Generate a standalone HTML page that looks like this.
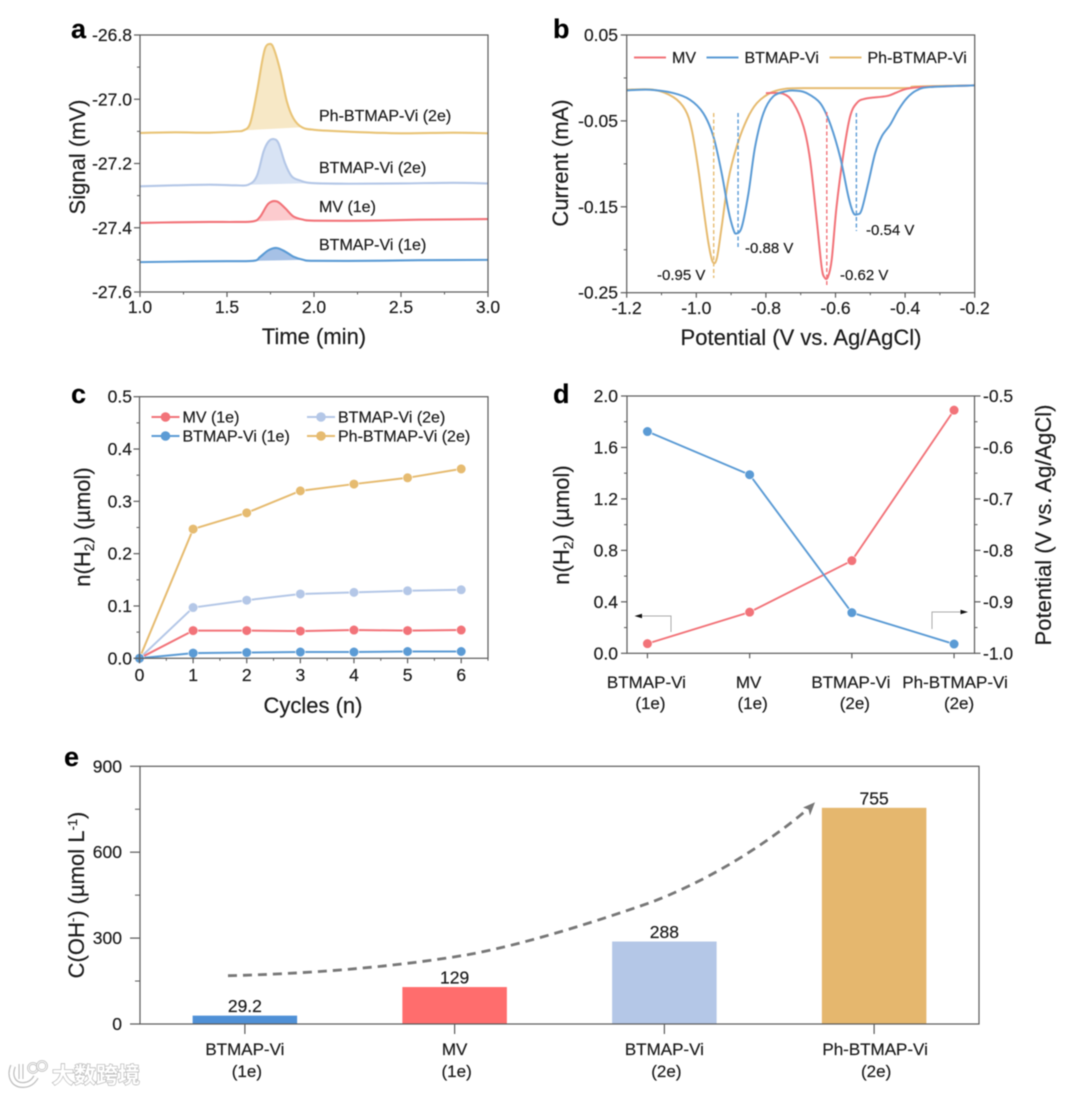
<!DOCTYPE html>
<html lang="en">
<head>
<meta charset="utf-8">
<title>Five-panel hydrogen evolution chart</title>
<style>
html,body{margin:0;padding:0;background:#fff;}
body{width:1080px;height:1094px;overflow:hidden;}
#figure{display:block;filter:blur(0.45px);}
text{font-family:"Liberation Sans","Noto Sans CJK SC",sans-serif;fill:#1c1c1c;stroke:#1c1c1c;stroke-width:0.2px;}
</style>
</head>
<body>
<svg id="figure" xmlns="http://www.w3.org/2000/svg" width="1080" height="1094" viewBox="0 0 1080 1094">
  <rect width="1080" height="1094" fill="#fff"/>

  <text x="71" y="38" font-size="27" font-weight="700" style="fill:#000">a</text>
  <text x="553" y="38" font-size="27" font-weight="700" style="fill:#000">b</text>
  <text x="71" y="403" font-size="27" font-weight="700" style="fill:#000">c</text>
  <text x="553" y="403" font-size="27" font-weight="700" style="fill:#000">d</text>
  <text x="64" y="766" font-size="27" font-weight="700" style="fill:#000">e</text>

  <text transform="translate(85,157) rotate(-90)" text-anchor="middle" font-size="22">Signal (mV)</text>
  <text x="314" y="344" text-anchor="middle" font-size="22">Time (min)</text>
  <text transform="translate(568,163) rotate(-90)" text-anchor="middle" font-size="22">Current (mA)</text>
  <text x="801" y="345" text-anchor="middle" font-size="22">Potential (V vs. Ag/AgCl)</text>
  <text transform="translate(90,527) rotate(-90)" text-anchor="middle" font-size="22">n(H<tspan font-size="14" dy="4">2</tspan><tspan dy="-4">) (µmol)</tspan></text>
  <text x="313" y="713" text-anchor="middle" font-size="22">Cycles (n)</text>
  <text transform="translate(569,525) rotate(-90)" text-anchor="middle" font-size="22">n(H<tspan font-size="14" dy="4">2</tspan><tspan dy="-4">) (µmol)</tspan></text>
  <text transform="translate(1051,525) rotate(-90)" text-anchor="middle" font-size="22">Potential (V vs. Ag/AgCl)</text>
  <text transform="translate(84,895) rotate(-90)" text-anchor="middle" font-size="22">C(OH<tspan font-size="13" dy="-7">-</tspan><tspan dy="7">) (µmol L</tspan><tspan font-size="13" dy="-7">-1</tspan><tspan dy="7">)</tspan></text>

  <g id="plot-a"></g>
  <g id="plot-b"></g>
  <g id="plot-c"></g>
  <g id="plot-d"></g>
  <g id="plot-e"></g>

  <g>
    <path d="M671 632V616H640" fill="none" stroke="#aaa" stroke-width="1"/>
    <path d="M634.5 616L642 613.8V618.2Z" fill="#111"/>
  </g>
  <g>
    <path d="M932 629V612H962" fill="none" stroke="#aaa" stroke-width="1"/>
    <path d="M968 612L960.5 609.8V614.2Z" fill="#111"/>
  </g>

  <g>
    <path d="M228 975.7C300 974 390 968 470 954.3C530 943 600 920 650 902.7C700 884 760 850 809 808" fill="none" stroke="#777" stroke-width="2.8" stroke-dasharray="9 6"/>
    <path d="M815 802.3L803 807.5L808.5 809.5L810 815.5Z" fill="#777"/>
  </g>

  <g>
    <path d="M13 1066C9 1076 13 1085 23 1085C29 1085 33 1082 36 1077" fill="none" stroke="#bdbdbd" stroke-width="6"/>
    <path d="M13 1066C9 1076 13 1085 23 1085C29 1085 33 1082 36 1077" fill="none" stroke="#fff" stroke-width="3.6"/>
    <path d="M21 1064V1079" fill="none" stroke="#bdbdbd" stroke-width="5"/>
    <path d="M21 1064V1079" fill="none" stroke="#fff" stroke-width="2.8"/>
    <circle cx="33" cy="1068" r="4.6" fill="none" stroke="#bdbdbd" stroke-width="2.6"/>
    <circle cx="33" cy="1068" r="4.6" fill="none" stroke="#fff" stroke-width="1"/>
    <circle cx="42" cy="1066" r="4.6" fill="none" stroke="#bdbdbd" stroke-width="2.6"/>
    <circle cx="42" cy="1066" r="4.6" fill="none" stroke="#fff" stroke-width="1"/>
    <text x="52" y="1083" font-size="22" font-weight="700" style="fill:#fff;stroke:#b4b4b4;stroke-width:1.3px;paint-order:stroke">大数跨境</text>
  </g>
</svg>

<script>
// Panel a: gas chromatography traces
const phTime = [1.0,1.2,1.4,1.55,1.594,1.633,1.671,1.70,1.72,1.744,1.767,1.805,1.844,1.882,1.93,2.0,2.2,2.5,2.8,3.0];
const phSignal = [-27.105,-27.103,-27.104,-27.100,-27.097,-27.075,-26.98,-26.888,-26.84,-26.828,-26.84,-26.909,-27.007,-27.06,-27.087,-27.095,-27.101,-27.106,-27.104,-27.106];
const bt2Time = [1.0,1.2,1.4,1.55,1.623,1.671,1.71,1.738,1.767,1.796,1.834,1.872,1.92,1.987,2.2,2.5,2.8,3.0];
const bt2Signal = [-27.271,-27.268,-27.266,-27.268,-27.266,-27.24,-27.163,-27.132,-27.124,-27.137,-27.2,-27.24,-27.253,-27.261,-27.263,-27.262,-27.260,-27.262];
const mvTime = [1.0,1.2,1.4,1.55,1.652,1.69,1.738,1.786,1.834,1.882,1.94,2.0,2.3,2.6,3.0];
const mvSignal = [-27.385,-27.383,-27.382,-27.382,-27.38,-27.366,-27.325,-27.318,-27.339,-27.365,-27.375,-27.378,-27.378,-27.375,-27.373];
const bt1Time = [1.0,1.3,1.5,1.652,1.69,1.738,1.786,1.834,1.882,1.94,2.0,2.3,2.6,3.0];
const bt1Signal = [-27.507,-27.505,-27.504,-27.503,-27.491,-27.47,-27.463,-27.474,-27.49,-27.5,-27.503,-27.503,-27.501,-27.5];

// Panel b: differential pulse voltammograms
const phPotential = [-1.2,-1.123,-1.066,-1.032,-1.013,-0.994,-0.98,-0.965,-0.953,-0.941,-0.927,-0.908,-0.884,-0.855,-0.826,-0.788,-0.75,-0.692,-0.405,-0.37,-0.2];
const phCurrent = [-0.0137,-0.0137,-0.0223,-0.037,-0.0604,-0.107,-0.15,-0.1925,-0.214,-0.21,-0.173,-0.119,-0.08,-0.0487,-0.0293,-0.0176,-0.013,-0.0118,-0.0118,-0.0100,-0.0087];
const btPotential = [-1.2,-1.133,-1.066,-1.018,-0.98,-0.951,-0.927,-0.908,-0.893,-0.884,-0.869,-0.85,-0.831,-0.807,-0.779,-0.74,-0.711,-0.683,-0.644,-0.616,-0.587,-0.563,-0.549,-0.537,-0.525,-0.506,-0.486,-0.467,-0.443,-0.419,-0.395,-0.367,-0.329,-0.2];
const btCurrent = [-0.0145,-0.0137,-0.0176,-0.0254,-0.041,-0.068,-0.111,-0.1537,-0.177,-0.181,-0.173,-0.134,-0.08,-0.041,-0.0215,-0.0153,-0.0149,-0.0176,-0.0293,-0.0526,-0.0915,-0.138,-0.1568,-0.1587,-0.1537,-0.1226,-0.0876,-0.068,-0.0545,-0.037,-0.0235,-0.0145,-0.0106,-0.0087];
const mvPotential = [-0.8,-0.75,-0.721,-0.692,-0.673,-0.654,-0.64,-0.632,-0.622,-0.611,-0.597,-0.577,-0.558,-0.539,-0.515,-0.453,-0.424,-0.395,-0.347,-0.2];
const mvCurrent = [-0.0176,-0.0184,-0.0293,-0.0565,-0.0954,-0.1653,-0.2197,-0.232,-0.232,-0.212,-0.15,-0.0876,-0.0448,-0.0293,-0.0242,-0.0211,-0.0168,-0.0126,-0.0106,-0.0087];
const peakPotentials = [-0.95,-0.88,-0.625,-0.54];
const peakLabels = ['-0.95 V','-0.88 V','-0.62 V','-0.54 V'];

// Panel c: hydrogen per cycle
const cycles = [0,1,2,3,4,5,6];
const cycleMv = [0,0.053,0.053,0.052,0.054,0.053,0.054];
const cycleBt1 = [0,0.010,0.011,0.012,0.012,0.013,0.013];
const cycleBt2 = [0,0.097,0.111,0.123,0.126,0.129,0.131];
const cyclePh = [0,0.247,0.278,0.320,0.333,0.345,0.362];

// Panel d: hydrogen vs potential
const speciesNames = ['BTMAP-Vi','MV','BTMAP-Vi','Ph-BTMAP-Vi'];
const speciesElectrons = ['(1e)','(1e)','(2e)','(2e)'];
const hydrogenValues = [0.075,0.32,0.72,1.89];
const potentialValues = [-0.569,-0.653,-0.921,-0.982];

// Panel e: hydroxide concentration
const hydroxideValues = [29.2,129,288,755];
const hydroxideLabels = ['29.2','129','288','755'];

const NS = 'http://www.w3.org/2000/svg';
const C = {gold:'#E6BB70', goldA:'#E9C477', light:'#B4C7E7', red:'#F27379', blue:'#5B9BD5', axis:'#5a5a5a'};

function mk(tag, attrs, parent, name, text) {
  const el = document.createElementNS(NS, tag);
  for (const k in attrs) el.setAttribute(k, attrs[k]);
  
  
  if (text !== undefined) el.textContent = text;
  parent.appendChild(el);
  return el;
}
function scale(d0, d1, r0, r1) { return v => r0 + (v - d0) * (r1 - r0) / (d1 - d0); }
function range(a, b, step) {
  const out = [], n = Math.round((b - a) / step);
  for (let i = 0; i <= n; i++) out.push(+(a + i * step).toFixed(4));
  return out;
}
function smoothPath(pts) {
  let d = 'M' + pts[0][0].toFixed(2) + ' ' + pts[0][1].toFixed(2);
  for (let i = 0; i < pts.length - 1; i++) {
    const p0 = pts[Math.max(i - 1, 0)], p1 = pts[i], p2 = pts[i + 1], p3 = pts[Math.min(i + 2, pts.length - 1)];
    const c1x = p1[0] + (p2[0] - p0[0]) / 6, c1y = p1[1] + (p2[1] - p0[1]) / 6;
    const c2x = p2[0] - (p3[0] - p1[0]) / 6, c2y = p2[1] - (p3[1] - p1[1]) / 6;
    d += 'C' + c1x.toFixed(2) + ' ' + c1y.toFixed(2) + ' ' + c2x.toFixed(2) + ' ' + c2y.toFixed(2) + ' ' + p2[0].toFixed(2) + ' ' + p2[1].toFixed(2);
  }
  return d;
}
function frame(g, x0, x1, y0, y1, prefix) {
  mk('rect', {x:x0, y:y0, width:x1-x0, height:y1-y0, fill:'none', stroke:C.axis, 'stroke-width':1.2}, g, prefix + '-plot-frame');
}
function yTicks(g, sy, x, majors, minors, labels, len, labelX, prefix, side) {
  const dir = side === 'right' ? 1 : -1;
  minors.forEach(v => {
    mk('line', {x1:x, x2:x + dir * len / 2, y1:sy(v), y2:sy(v), stroke:C.axis, 'stroke-width':1}, g, prefix + '-minor-tick');
  });
  majors.forEach((v, i) => {
    mk('line', {x1:x, x2:x + dir * len, y1:sy(v), y2:sy(v), stroke:C.axis, 'stroke-width':1.2}, g, prefix + '-major-tick');
    mk('text', {x:labelX, y:sy(v) + 6, 'font-size':17.5, 'text-anchor':side === 'right' ? 'start' : 'end'}, g, prefix + '-tick-label', labels[i]);
  });
}
function xTicks(g, sx, y, majors, minors, labels, len, baseline, prefix) {
  minors.forEach(v => {
    mk('line', {x1:sx(v), x2:sx(v), y1:y, y2:y + len / 2, stroke:C.axis, 'stroke-width':1}, g, prefix + '-minor-tick');
  });
  majors.forEach((v, i) => {
    mk('line', {x1:sx(v), x2:sx(v), y1:y, y2:y + len, stroke:C.axis, 'stroke-width':1.2}, g, prefix + '-major-tick');
    if (labels) mk('text', {x:sx(v), y:baseline, 'font-size':17.5, 'text-anchor':'middle'}, g, prefix + '-tick-label', labels[i]);
  });
}

/* ---------- panel a ---------- */
(function () {
  const g = document.getElementById('plot-a');
  const sx = scale(1, 3, 140, 488), sy = scale(-26.8, -27.6, 35, 292);
  function trace(xs, ys, color, fill, t0, t1, name) {
    const pts = xs.map((x, i) => [sx(x), sy(ys[i])]);
    const inside = [];
    xs.forEach((x, i) => { if (x >= t0 && x <= t1) inside.push(pts[i]); });
    mk('path', {d:smoothPath(inside) + 'Z', fill:fill, stroke:'none'}, g, name + '-peak-area');
    mk('path', {d:smoothPath(pts), fill:'none', stroke:color, 'stroke-width':2.1}, g, name + '-trace');
  }
  trace(phTime, phSignal, C.goldA, '#F7E8C6', 1.594, 1.93, 'ph-btmap-vi-2e');
  trace(bt2Time, bt2Signal, C.light, '#D8E3F4', 1.623, 1.987, 'btmap-vi-2e');
  trace(mvTime, mvSignal, C.red, '#FCCBCE', 1.652, 1.94, 'mv-1e');
  trace(bt1Time, bt1Signal, C.blue, '#A6C1E6', 1.652, 1.94, 'btmap-vi-1e');
  frame(g, 140, 488, 35, 292, 'a');
  yTicks(g, sy, 140, range(-27.6, -26.8, 0.2), range(-27.5, -26.9, 0.2), ['-27.6','-27.4','-27.2','-27.0','-26.8'], 6, 132, 'a-y', 'left');
  xTicks(g, sx, 292, range(1, 3, 0.5), range(1.25, 2.75, 0.5), ['1.0','1.5','2.0','2.5','3.0'], 5, 313, 'a-x');
  mk('text', {x:319, y:121, 'font-size':16}, g, 'ph-btmap-vi-2e-label', 'Ph-BTMAP-Vi (2e)');
  mk('text', {x:319, y:173, 'font-size':16}, g, 'btmap-vi-2e-label', 'BTMAP-Vi (2e)');
  mk('text', {x:319, y:212, 'font-size':16}, g, 'mv-1e-label', 'MV (1e)');
  mk('text', {x:319, y:250, 'font-size':16}, g, 'btmap-vi-1e-label', 'BTMAP-Vi (1e)');
})();

/* ---------- panel b ---------- */
(function () {
  const g = document.getElementById('plot-b');
  const sx = scale(-1.2, -0.2, 626.7, 974.7), sy = scale(0.05, -0.25, 35, 292.7);
  function curve(xs, ys, color, name) {
    const pts = xs.map((x, i) => [sx(x), sy(ys[i])]);
    mk('path', {d:smoothPath(pts), fill:'none', stroke:color, 'stroke-width':2}, g, name);
  }
  curve(phPotential, phCurrent, C.gold, 'ph-btmap-vi-curve');
  curve(mvPotential, mvCurrent, C.red, 'mv-curve');
  curve(btPotential, btCurrent, C.blue, 'btmap-vi-curve');
  function drop(v, color, y0, y1, name) {
    mk('line', {x1:sx(v), x2:sx(v), y1:y0, y2:y1, stroke:color, 'stroke-width':1.4, 'stroke-dasharray':'4 2.5'}, g, name);
  }
  drop(peakPotentials[0], C.gold, 113, 278, 'peak-marker-ph-btmap-vi');
  drop(peakPotentials[1], C.blue, 113, 248, 'peak-marker-btmap-vi-first');
  drop(peakPotentials[2], C.red, 112, 285, 'peak-marker-mv');
  drop(peakPotentials[3], C.blue, 113, 231, 'peak-marker-btmap-vi-second');
  mk('text', {x:657, y:280, 'font-size':15}, g, 'peak-label-ph-btmap-vi', peakLabels[0]);
  mk('text', {x:745, y:253, 'font-size':15}, g, 'peak-label-btmap-vi-first', peakLabels[1]);
  mk('text', {x:840, y:280, 'font-size':15}, g, 'peak-label-mv', peakLabels[2]);
  mk('text', {x:866, y:235, 'font-size':15}, g, 'peak-label-btmap-vi-second', peakLabels[3]);
  frame(g, 626.7, 974.7, 35, 292.7, 'b');
  yTicks(g, sy, 626.7, range(-0.25, 0.05, 0.1), range(-0.2, 0, 0.1), ['-0.25','-0.15','-0.05','0.05'], 6, 618, 'b-y', 'left');
  xTicks(g, sx, 292.7, range(-1.2, -0.2, 0.2), range(-1.1, -0.3, 0.2), ['-1.2','-1.0','-0.8','-0.6','-0.4','-0.2'], 5, 314, 'b-x');
  function legend(x, color, label, name) {
    mk('line', {x1:x, x2:x + 32, y1:57.5, y2:57.5, stroke:color, 'stroke-width':1.9}, g, name + '-legend-line');
    mk('text', {x:x + 38, y:63, 'font-size':16}, g, name + '-legend-label', label);
  }
  legend(634, C.red, 'MV', 'mv');
  legend(706.5, C.blue, 'BTMAP-Vi', 'btmap-vi');
  legend(829.5, C.gold, 'Ph-BTMAP-Vi', 'ph-btmap-vi');
})();

/* ---------- panel c ---------- */
(function () {
  const g = document.getElementById('plot-c');
  const sx = scale(0, 6.5, 139.5, 488), sy = scale(0, 0.5, 658.3, 396.7);
  function series(vals, color, name) {
    const pts = cycles.map((c, i) => sx(c).toFixed(2) + ',' + sy(vals[i]).toFixed(2)).join(' ');
    mk('polyline', {points:pts, fill:'none', stroke:color, 'stroke-width':2}, g, name + '-line');
    cycles.forEach((c, i) => {
      mk('circle', {cx:sx(c), cy:sy(vals[i]), r:4.8, fill:color, stroke:'#fff', 'stroke-width':0.6}, g, name + '-point');
    });
  }
  series(cyclePh, C.gold, 'ph-btmap-vi-2e');
  series(cycleBt2, C.light, 'btmap-vi-2e');
  series(cycleMv, C.red, 'mv-1e');
  series(cycleBt1, C.blue, 'btmap-vi-1e');
  frame(g, 139.5, 488, 396.7, 658.3, 'c');
  yTicks(g, sy, 139.5, range(0, 0.5, 0.1), range(0.05, 0.45, 0.1), ['0.0','0.1','0.2','0.3','0.4','0.5'], 6, 132, 'c-y', 'left');
  xTicks(g, sx, 658.3, range(0, 6, 1), range(0.5, 6.5, 1), ['0','1','2','3','4','5','6'], 5, 681, 'c-x');
  function legend(x, y, color, label, name) {
    mk('line', {x1:x, x2:x + 28, y1:y, y2:y, stroke:color, 'stroke-width':2}, g, name + '-legend-line');
    mk('circle', {cx:x + 14, cy:y, r:4.8, fill:color}, g, name + '-legend-marker');
    mk('text', {x:x + 31, y:y + 5.5, 'font-size':16}, g, name + '-legend-label', label);
  }
  legend(151.5, 417, C.red, 'MV (1e)', 'mv-1e');
  legend(151.5, 436, C.blue, 'BTMAP-Vi (1e)', 'btmap-vi-1e');
  legend(307, 417, C.light, 'BTMAP-Vi (2e)', 'btmap-vi-2e');
  legend(307, 436, C.gold, 'Ph-BTMAP-Vi (2e)', 'ph-btmap-vi-2e');
})();

/* ---------- panel d ---------- */
(function () {
  const g = document.getElementById('plot-d');
  const sx = scale(-0.2, 3.2, 627, 974.5), syL = scale(0, 2, 653.3, 396), syR = scale(-1, -0.5, 653.3, 396);
  function series(vals, sy, color, name) {
    const pts = vals.map((v, i) => sx(i).toFixed(2) + ',' + sy(v).toFixed(2)).join(' ');
    mk('polyline', {points:pts, fill:'none', stroke:color, 'stroke-width':1.9}, g, name + '-line');
    vals.forEach((v, i) => {
      mk('circle', {cx:sx(i), cy:sy(v), r:4.8, fill:color, stroke:'#fff', 'stroke-width':0.6}, g, name + '-point');
    });
  }
  series(hydrogenValues, syL, C.red, 'hydrogen');
  series(potentialValues, syR, C.blue, 'potential');
  frame(g, 627, 974.5, 396, 653.3, 'd');
  yTicks(g, syL, 627, range(0, 2, 0.4), range(0.2, 1.8, 0.4), ['0.0','0.4','0.8','1.2','1.6','2.0'], 6, 618, 'd-left-y', 'left');
  yTicks(g, syR, 974.5, range(-1, -0.5, 0.1), range(-0.95, -0.55, 0.1), ['-1.0','-0.9','-0.8','-0.7','-0.6','-0.5'], 6, 983, 'd-right-y', 'right');
  xTicks(g, sx, 653.3, [0,1,2,3], [], null, 5, 0, 'd-x');
  speciesNames.forEach((n, i) => {
    const shift = i === 3 ? 2 : 0;
    mk('text', {x:sx(i) + shift - 1, y:688, 'font-size':17, 'text-anchor':'middle'}, g, 'd-category-label', n);
    mk('text', {x:sx(i) + shift + 3, y:709, 'font-size':17, 'text-anchor':'middle'}, g, 'd-category-electrons', speciesElectrons[i]);
  });
})();

/* ---------- panel e ---------- */
(function () {
  const g = document.getElementById('plot-e');
  const sx = scale(-0.5, 3.5, 140, 979), sy = scale(0, 900, 1024, 766.3);
  const colors = ['#4F90D6', '#FF6D6D', '#B4C7E7', '#E5B76E'];
  const barWidth = 104.5;
  hydroxideValues.forEach((v, i) => {
    mk('rect', {x:sx(i) - barWidth / 2, y:sy(v), width:barWidth, height:sy(0) - sy(v), fill:colors[i]}, g, 'bar-' + i);
    mk('text', {x:sx(i), y:sy(v) - 3.5, 'font-size':17.5, 'text-anchor':'middle'}, g, 'bar-value-' + i, hydroxideLabels[i]);
  });
  frame(g, 140, 979, 766.3, 1024, 'e');
  yTicks(g, sy, 140, range(0, 900, 300), range(150, 750, 300), ['0','300','600','900'], 10, 122, 'e-y', 'left');
  xTicks(g, sx, 1024, [0,1,2,3], [], null, 10, 0, 'e-x');
  speciesNames.forEach((n, i) => {
    mk('text', {x:sx(i) + (i === 3 ? 1 : 0), y:1055, 'font-size':17, 'text-anchor':'middle'}, g, 'e-category-label', n);
    mk('text', {x:sx(i) + 2, y:1077, 'font-size':17, 'text-anchor':'middle'}, g, 'e-category-electrons', speciesElectrons[i]);
  });
})();
</script>
</body>
</html>
